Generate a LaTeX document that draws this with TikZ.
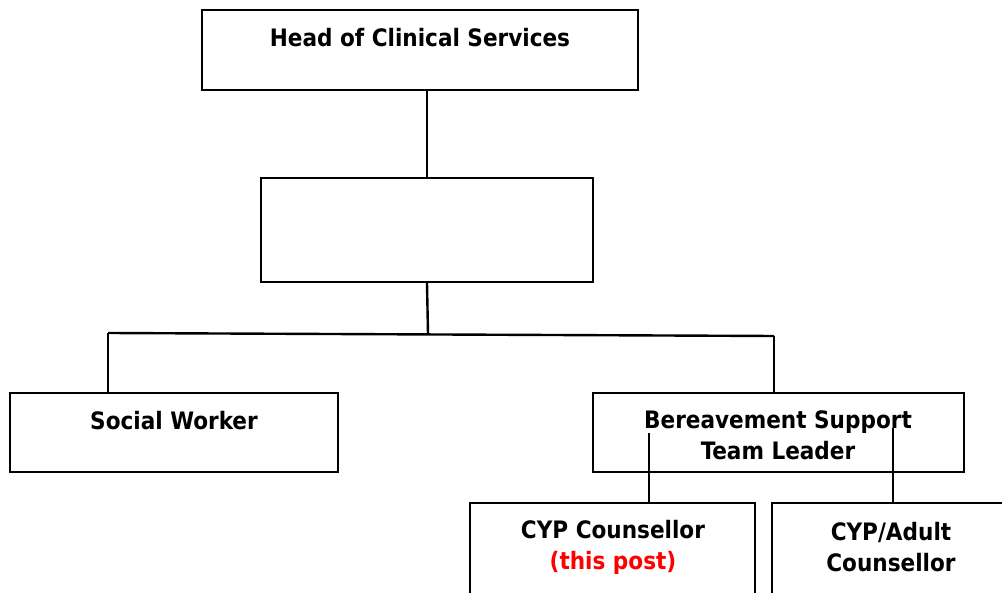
\documentclass[tikz,border=0pt]{standalone}
\usepackage{fontspec}
\setmainfont{DejaVu Sans Condensed}
\begin{document}
\begin{tikzpicture}[x=1pt,y=-1pt,
  box/.style={draw=black,line width=2.4pt,fill=white,rectangle,inner sep=0pt},
  lbl/.style={font=\bfseries\fontsize{24}{31}\selectfont,align=center,inner sep=0pt},
  conn/.style={draw=black,line width=2.4pt}]
\useasboundingbox (0,0) rectangle (1002,593);
\clip (0,0) rectangle (1002,593);
% boxes
\node[box,minimum width=436pt,minimum height=80pt] (head) at (420,50) {};
\node[box,minimum width=332pt,minimum height=104pt] (mid) at (427,230) {};
\node[box,minimum width=328pt,minimum height=79pt] (sw) at (174,432.5) {};
\node[box,minimum width=371pt,minimum height=79pt] (bst) at (778.5,432.5) {};
\node[box,minimum width=285pt,minimum height=117pt] (cyp) at (612.5,561.5) {};
\node[box,minimum width=258pt,minimum height=117pt] (adult) at (901,561.5) {};
% labels
\node[lbl] (headt) at (420,37.5) {Head of Clinical Services};
\node[lbl] (swt) at (174,420.5) {Social Worker};
\node[lbl] (bstt) at (778,435.5) {Bereavement Support\\Team Leader};
\node[lbl] (cypt) at (613,547) {CYP Counsellor\\\textcolor{red}{(this post)}};
\node[lbl] (adultt) at (891,547) {CYP/Adult\\Counsellor};
% connectors
\coordinate (jm) at (428,334);
\coordinate (jl) at (108,333);
\coordinate (jr) at (774,336);
\coordinate (c1) at (649,433);
\coordinate (c2) at (893,428);
\draw[conn] (mid.north |- head.south) -- (mid.north);
\draw[conn] (mid.south) -- (jm);
\draw[conn] (jl) -- (jr);
\draw[conn] (jl) -- (jl |- sw.north);
\draw[conn] (jr) -- (jr |- bst.north);
\draw[conn] (c1) -- (c1 |- cyp.north);
\draw[conn] (c2) -- (c2 |- adult.north);
\end{tikzpicture}
\end{document}
